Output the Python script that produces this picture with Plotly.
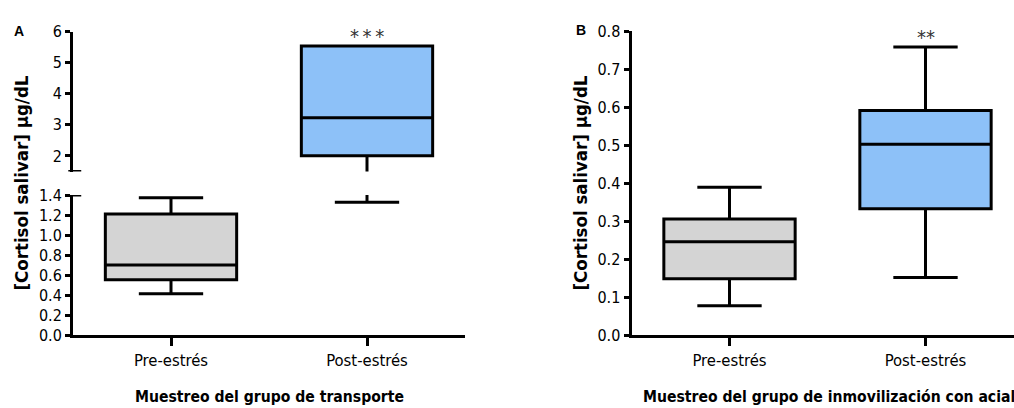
import plotly.graph_objects as go

# ---------------- data ----------------
categories = ["Pre-estrés", "Post-estrés"]

# Panel A: transport group, salivary cortisol (µg/dL)
transporte_lower = [0.413, 1.327]
transporte_q1 = [0.553, 2.008]
transporte_median = [0.700, 3.229]
transporte_q3 = [1.210, 5.534]
transporte_upper = [1.373, 5.534]

# Panel B: twitch-restraint group, salivary cortisol (µg/dL)
acial_lower = [0.077, 0.151]
acial_q1 = [0.148, 0.332]
acial_median = [0.2455, 0.502]
acial_q3 = [0.305, 0.591]
acial_upper = [0.389, 0.758]

significance_a = "*\u2009*\u2009*"
significance_b = "**"

# ---------------- styling ----------------
W, H = 1014, 408
box_colors = ["#d4d4d4", "#8dc1f8"]
narrow = "DejaVu Sans Condensed, Liberation Sans Narrow, Arial Narrow, sans-serif"
LW = 3


def px_x(p):
    return p / W


def px_y(p):
    return 1 - p / H


# broken y-axis ranges for panel A
a_low_range = [0, 1.4]
a_high_range = [1.5, 6]

fig = go.Figure()


def add_box(i, lower, q1, med, q3, upper, xa, ya):
    fig.add_trace(go.Box(
        x=[categories[i]],
        lowerfence=[lower[i]], q1=[q1[i]], median=[med[i]],
        q3=[q3[i]], upperfence=[upper[i]],
        fillcolor=box_colors[i],
        line=dict(color="black", width=LW),
        whiskerwidth=0.49, width=0.67,
        boxpoints=False, showlegend=False, hoverinfo="skip",
        xaxis=xa, yaxis=ya,
    ))


for i in range(len(categories)):
    # panel A, lower and upper segments of the broken axis
    add_box(i, transporte_lower, transporte_q1, transporte_median,
            transporte_q3, transporte_upper, "x", "y")
    add_box(i, transporte_lower, transporte_q1, transporte_median,
            transporte_q3, transporte_upper, "x2", "y2")
    # panel B
    add_box(i, acial_lower, acial_q1, acial_median,
            acial_q3, acial_upper, "x3", "y3")

axis_common = dict(showline=True, linewidth=LW, linecolor="black",
                   showgrid=False, zeroline=False, ticks="outside",
                   tickwidth=LW, tickcolor="black", automargin=False)

tick_num_font = dict(size=16, family=narrow, color="black")
tick_cat_font = dict(size=16.5, family=narrow, color="black")

left_dom = [px_x(73), px_x(465)]
right_dom = [px_x(631.5), 1.0]

fig.update_layout(
    width=W, height=H,
    margin=dict(l=0, r=0, t=0, b=0, autoexpand=False),
    paper_bgcolor="white", plot_bgcolor="white",
    font=dict(family=narrow, color="black"),
    xaxis=dict(axis_common, domain=left_dom, anchor="y",
               type="category", categoryorder="array", categoryarray=categories,
               range=[-0.5, 1.5], ticklen=8, tickfont=tick_cat_font),
    yaxis=dict(axis_common, domain=[px_y(335), px_y(195)], anchor="x",
               range=a_low_range, dtick=0.2, tickformat=".1f", ticklen=5,
               tickfont=tick_num_font),
    xaxis2=dict(domain=left_dom, anchor="y2", visible=False, automargin=False,
                type="category", categoryorder="array", categoryarray=categories,
                range=[-0.5, 1.5]),
    yaxis2=dict(axis_common, domain=[px_y(171.5), px_y(31.5)], anchor="x2",
                range=a_high_range, tickvals=[2, 3, 4, 5, 6], ticklen=5,
                tickfont=tick_num_font),
    xaxis3=dict(axis_common, domain=right_dom, anchor="y3",
                type="category", categoryorder="array", categoryarray=categories,
                range=[-0.5, -0.5 + (W - 631.5) / 196], ticklen=8,
                tickfont=tick_cat_font),
    yaxis3=dict(axis_common, domain=[px_y(335), px_y(31)], anchor="x3",
                range=[0, 0.8], dtick=0.1, tickformat=".1f", ticklen=5,
                tickfont=tick_num_font),
)

# break caps at the ends of the two axis segments in panel A
fig.add_shape(type="line", xref="x2 domain", yref="y2",
              x0=-0.012, x1=0.021, y0=a_high_range[0], y1=a_high_range[0],
              line=dict(color="black", width=LW))
fig.add_shape(type="line", xref="x domain", yref="y",
              x0=-0.012, x1=0.021, y0=a_low_range[1], y1=a_low_range[1],
              line=dict(color="black", width=LW))

# significance markers
fig.add_annotation(x=categories[1], y=transporte_q3[1], xref="x2", yref="y2",
                   text=significance_a, showarrow=False,
                   xanchor="center", yanchor="bottom",
                   yshift=-4, font=dict(size=20, color="#333333", family=narrow))
fig.add_annotation(x=categories[1], y=acial_upper[1], xref="x3", yref="y3",
                   text=significance_b, showarrow=False,
                   xanchor="center", yanchor="bottom",
                   yshift=-4, font=dict(size=20, color="#333333", family=narrow))


def paper_text(xp, yp, text, font, angle=0):
    fig.add_annotation(x=px_x(xp), y=px_y(yp), xref="paper", yref="paper",
                       text=text, textangle=angle, showarrow=False,
                       xanchor="center", yanchor="middle", font=font)


# panel letters
bold_font = dict(family="Liberation Sans, Arial, sans-serif", size=14, color="black")
paper_text(19, 31, "<b>A</b>", bold_font)
paper_text(581, 30, "<b>B</b>", bold_font)

# y-axis titles
ytitle_font = dict(size=18.5, family=narrow, color="black")
for xp in (21.5, 580.5):
    paper_text(xp, 183, "<b>[Cortisol salivar] µg/dL</b>", ytitle_font, angle=-90)

# x-axis titles
xtitle_font = dict(size=15.6, family=narrow, color="black")
paper_text(269, 397, "<b>Muestreo del grupo de transporte</b>", xtitle_font)
paper_text(829, 397, "<b>Muestreo del grupo de inmovilización con acial</b>", xtitle_font)

fig.write_html("out.html")
